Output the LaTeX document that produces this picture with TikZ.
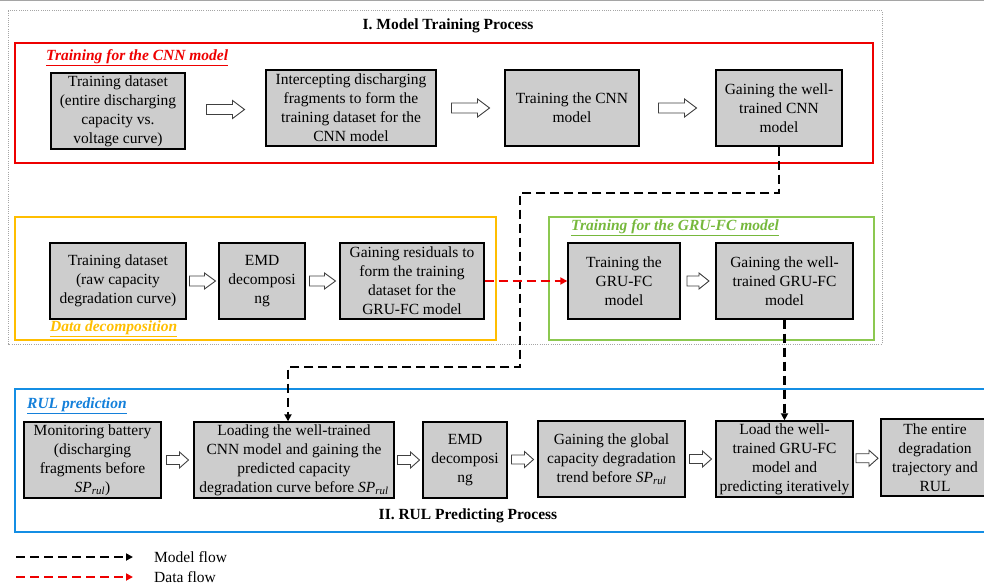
\documentclass[tikz,border=0pt]{standalone}
\usepackage{fontspec}
\setmainfont{Liberation Serif}
\usetikzlibrary{calc,arrows.meta}
\definecolor{boxgray}{RGB}{205,205,205}
\definecolor{redc}{RGB}{238,0,0}
\definecolor{orangec}{RGB}{255,190,0}
\definecolor{greenf}{RGB}{140,200,80}
\definecolor{greent}{RGB}{118,184,60}
\definecolor{bluef}{RGB}{20,142,228}
\definecolor{bluet}{RGB}{20,128,218}
\definecolor{dotgray}{RGB}{165,165,165}
\newcommand\fs{\fontsize{15.5}{19}\selectfont}
\newcommand\sprul{\textit{SP}\textsubscript{\textit{rul}}}
\newcommand\holarrow[6]{%
  \draw[harrow] ($(#1.east)!0.5!(#2.west)$) ++({-(#3)/2},{-(#4)}) -- ++({(#3)-(#6)},0)
    -- ++(0,{(#4)-(#5)}) -- ++({#6},{#5}) -- ++({-(#6)},{#5}) -- ++(0,{(#4)-(#5)})
    -- ++({-((#3)-(#6))},0) -- cycle;}
\tikzset{
  bx/.style={draw=black, line width=1.4pt, fill=boxgray, align=center, inner sep=0pt, font=\fs},
  harrow/.style={draw=black!75, line width=0.9pt, fill=white},
  mflow/.style={draw=black, line width=2.3pt, dash pattern=on 9pt off 5pt, -{Triangle[length=7pt,width=7pt]}},
  dflow/.style={draw=redc, line width=2.3pt, dash pattern=on 9pt off 5pt, -{Triangle[length=7pt,width=7pt]}},
  frame/.style={line width=2.2pt},
  lbl/.style={anchor=west, font=\fs\bfseries\itshape, inner sep=0pt},
  ttl/.style={font=\fs\bfseries, inner sep=0pt},
  txt/.style={anchor=west, font=\fs, inner sep=0pt}
}
\begin{document}
\begin{tikzpicture}[x=1pt,y=-1pt]
\useasboundingbox (0,0) rectangle (984,585);
\clip (0,0) rectangle (984,585);
% top gray line
\draw[dotgray, line width=1.5pt] (0,0.75) -- (984,0.75);
% outer dotted frame
\draw[dotgray, line width=1pt, dash pattern=on 1pt off 1.2pt] (8,11) rectangle (882,344);
\node[ttl] (t1) at (448,26) {I. Model Training Process};
% frames
\draw[frame, redc] (15,43) rectangle (873,163);
\draw[frame, orangec] (15,217) rectangle (496,340);
\draw[frame, greenf] (549,217) rectangle (874,340);
\draw[frame, bluef] (15,389) rectangle (995,532);
% frame labels
\node[lbl, text=redc] (lcnn) at (46,58) {\underline{Training for the CNN model}};
\node[lbl, text=orangec] (ldd) at (50,329) {\underline{Data decomposition}};
\node[lbl, text=greent] (lgru) at (571,228) {\underline{Training for the GRU-FC model}};
\node[lbl, text=bluet] (lrul) at (27,406) {\underline{RUL prediction}};
\node[ttl] (t2) at (468,516) {II. RUL Predicting Process};
% CNN row
\node[bx, minimum width=134, minimum height=76] (A1) at (118,111) {Training dataset\\(entire discharging\\capacity vs.\\voltage curve)};
\node[bx, minimum width=170, minimum height=76] (A2) at (351,108) {Intercepting discharging\\fragments to form the\\training dataset for the\\CNN model};
\node[bx, minimum width=134, minimum height=76] (A3) at (572,108) {Training the CNN\\model};
\node[bx, minimum width=126, minimum height=76] (A4) at (779,108) {Gaining the well-\\trained CNN\\model};
\holarrow{A1}{A2}{38}{5}{9}{12}
\holarrow{A2}{A3}{38}{5}{9}{12}
\holarrow{A3}{A4}{38}{5}{9}{12}
% decomposition row
\node[bx, minimum width=136, minimum height=76] (O1) at (118,281) {Training dataset\\(raw capacity\\degradation curve)};
\node[bx, minimum width=86, minimum height=76] (O2) at (262,281) {EMD\\decomposi\\ng};
\node[bx, minimum width=144, minimum height=76] (O3) at (412,281) {Gaining residuals to\\form the training\\dataset for the\\GRU-FC model};
\holarrow{O1}{O2}{26}{5}{8}{11}
\holarrow{O2}{O3}{26}{5}{8}{11}
% GRU row
\node[bx, minimum width=112, minimum height=76] (G1) at (624,281) {Training the\\GRU-FC\\model};
\node[bx, minimum width=137, minimum height=76] (G2) at (784.5,281) {Gaining the well-\\trained GRU-FC\\model};
\holarrow{G1}{G2}{22}{5}{8}{10}
% RUL row
\node[bx, minimum width=137, minimum height=76] (B1) at (92.5,460) {Monitoring battery\\(discharging\\fragments before\\\sprul)};
\node[bx, minimum width=200, minimum height=76] (B2) at (294,460) {Loading the well-trained\\CNN model and gaining the\\predicted capacity\\degradation curve before \sprul};
\node[bx, minimum width=84, minimum height=76] (B3) at (465,460) {EMD\\decomposi\\ng};
\node[bx, minimum width=147, minimum height=76] (B4) at (611.5,459) {Gaining the global\\capacity degradation\\trend before \sprul};
\node[bx, minimum width=137, minimum height=76] (B5) at (784.5,459) {Load the well-\\trained GRU-FC\\model and\\predicting iteratively};
\node[bx, minimum width=108, minimum height=77] (B6) at (935,457.5) {The entire\\degradation\\trajectory and\\RUL};
\holarrow{B1}{B2}{22}{4.5}{8}{9}
\holarrow{B2}{B3}{22}{4.5}{8}{9}
\holarrow{B3}{B4}{22}{4.5}{8}{9}
\holarrow{B4}{B5}{22}{4.5}{8}{9}
\holarrow{B5}{B6}{22}{4.5}{8}{9}
% flows
\coordinate (p1) at (779,193);
\coordinate (p2) at (520,193);
\coordinate (p3) at (520,367);
\coordinate (p4) at (288,367);
\draw[mflow] (A4.south) -- (p1) -- (p2) -- (p3) -- (p4) -- (p4 |- B2.north);
\draw[dflow] (O3.east) -- (G1.west);
\draw[mflow] (G2.south) -- (B5.north);
% legend
\coordinate (lm1) at (16,557);
\coordinate (lm2) at (133,557);
\coordinate (ld1) at (16,577);
\coordinate (ld2) at (133,577);
\draw[mflow] (lm1) -- (lm2);
\draw[dflow] (ld1) -- (ld2);
\node[txt] (lmt) at (154,557) {Model flow};
\node[txt] (ldt) at (154,577) {Data flow};
\end{tikzpicture}
\end{document}
